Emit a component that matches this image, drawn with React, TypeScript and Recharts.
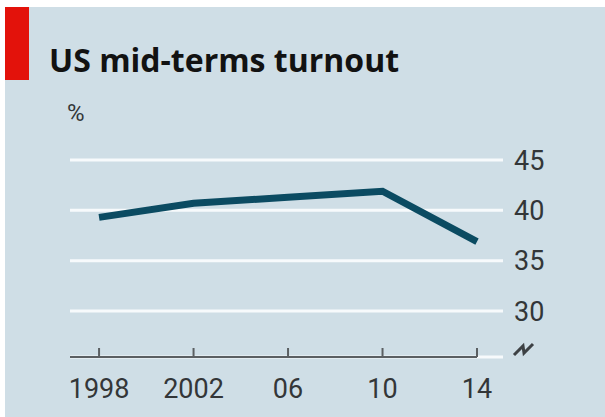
import React from 'react';
import { LineChart, Line, XAxis, YAxis, CartesianGrid, ReferenceLine } from 'recharts';

// values
const years = [1998, 2002, 2006, 2010, 2014];
const turnout = [39.3, 40.7, 41.3, 41.9, 36.9];
const xTickLabels = ['1998', '2002', '06', '10', '14'];
const yTicks = [30, 35, 40, 45];

const X_MIN = 1996.77;
const X_MAX = 2015.1;
const Y_MIN = 25.43;
const Y_MAX = 45;

const data = years.map((year, i) => ({ year, turnout: turnout[i] }));

const FONT = 'Roboto, "Liberation Sans", sans-serif';
const TEXT = '#333638';

const XTick = (props) => {
  const { x, y, payload } = props;
  const idx = years.indexOf(payload.value);
  return (
    <g>
      <line x1={x} y1={y} x2={x} y2={y - 9} stroke="#5b5f62" strokeWidth={2} />
      <text x={x} y={y + 41} textAnchor="middle" fill={TEXT} fontSize={27} fontFamily={FONT}>
        {xTickLabels[idx]}
      </text>
    </g>
  );
};

export default function App() {
  return (
    <div style={{ position: 'relative', width: 605, height: 417, background: '#fff', overflow: 'hidden' }}>
      <style>{`body{margin:0}`}</style>
      <div style={{ position: 'absolute', left: 5, top: 7, width: 600, height: 410, background: '#cfdee6' }} />
      <div style={{ position: 'absolute', left: 5, top: 7, width: 24, height: 73, background: '#e3120b' }} />
      <div style={{
        position: 'absolute', left: 49, top: 44, fontFamily: '"Open Sans", sans-serif', fontWeight: 700,
        fontSize: 32, lineHeight: 1, color: '#121212', whiteSpace: 'nowrap'
      }}>
        US mid-terms turnout
      </div>
      <div style={{
        position: 'absolute', left: 67, top: 101, fontFamily: FONT,
        fontSize: 24, lineHeight: 1, color: TEXT
      }}>
        %
      </div>
      <div style={{ position: 'absolute', left: 0, top: 0 }}>
        <LineChart width={605} height={417} data={data} margin={{ top: 160, right: 42, left: 70, bottom: 15 }}>
          <CartesianGrid vertical={false} stroke="#f7fafc" strokeWidth={3} />
          <XAxis
            dataKey="year"
            type="number"
            domain={[X_MIN, X_MAX]}
            ticks={years}
            allowDataOverflow
            axisLine={false}
            tickLine={false}
            tickSize={0}
            tickMargin={0}
            height={45}
            tick={<XTick />}
            interval={0}
          />
          <YAxis
            orientation="right"
            domain={[Y_MIN, Y_MAX]}
            ticks={yTicks}
            allowDataOverflow
            axisLine={false}
            tickLine={false}
            tickSize={0}
            tickMargin={11}
            width={60}
            tick={{ fill: TEXT, fontSize: 27, fontFamily: FONT, textAnchor: 'start' }}
          />
          <ReferenceLine
            segment={[{ x: X_MIN, y: Y_MIN }, { x: 2014, y: Y_MIN }]}
            stroke="#5b5f62"
            strokeWidth={2}
            ifOverflow="visible"
          />
          <Line
            type="linear"
            dataKey="turnout"
            stroke="#0b4b62"
            strokeWidth={7}
            dot={false}
            activeDot={false}
            isAnimationActive={false}
          />
        </LineChart>
      </div>
      <svg style={{ position: 'absolute', left: 0, top: 0 }} width={605} height={417}>
        <path d="M514,355 L523,346 L524,353 L533,344" fill="none" stroke="#3d4144" strokeWidth={3} />
      </svg>
    </div>
  );
}
